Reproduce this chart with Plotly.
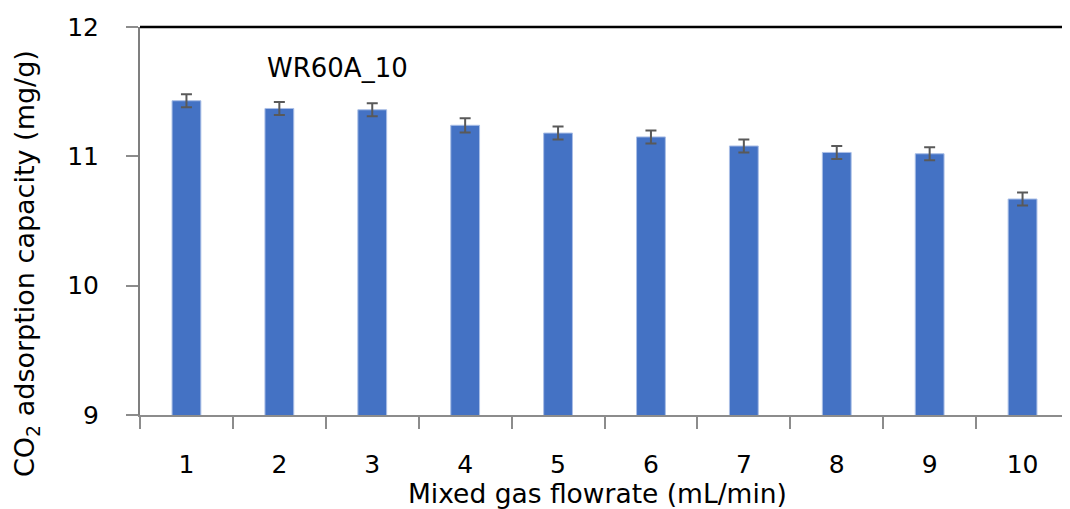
import plotly.graph_objects as go

categories = ["1", "2", "3", "4", "5", "6", "7", "8", "9", "10"]
capacity = [11.43, 11.37, 11.36, 11.24, 11.18, 11.15, 11.08, 11.03, 11.02, 10.67]
errors = [0.05, 0.05, 0.05, 0.055, 0.05, 0.05, 0.05, 0.05, 0.05, 0.05]
y_ticks = [9, 10, 11, 12]

FONT = "DejaVu Sans"

# page has an 8px body margin, so the figure is shifted by 8px
OFF = 8
W, H = 1070 - OFF, 509 - OFF
L, T, R, B = 140 - OFF, 27 - OFF, 1, 94
PW, PH = W - L - R, H - T - B


def px(xp):
    return (xp - OFF - L) / PW


def py(yp):
    return (H - B - (yp - OFF)) / PH


fig = go.Figure()
fig.add_trace(go.Bar(
    x=categories,
    y=capacity,
    marker=dict(color="#4472C4", line=dict(color="#A9BEE6", width=1)),
    error_y=dict(type="data", array=errors, visible=True,
                 color="#595959", thickness=2, width=5.5),
    showlegend=False,
))

fig.update_layout(
    width=W, height=H,
    margin=dict(l=L, r=R, t=T, b=B),
    paper_bgcolor="white", plot_bgcolor="white",
    bargap=0.69,
    font=dict(family=FONT, size=22, color="black"),
    xaxis=dict(
        type="category",
        showline=True, linecolor="#8c8c8c", linewidth=1.5,
        ticks="outside", tickson="boundaries", ticklen=12, tickwidth=1.5,
        tickcolor="#8c8c8c",
        ticklabelstandoff=26,
        tickfont=dict(family=FONT, size=25, color="black"),
        showgrid=False,
    ),
    yaxis=dict(
        range=[9, 12],
        tickvals=y_ticks,
        showline=True, linecolor="#7f7f7f", linewidth=2,
        ticks="outside", ticklen=12, tickwidth=1.5, tickcolor="#8c8c8c",
        ticklabelstandoff=22,
        tickfont=dict(family=FONT, size=25, color="black"),
        showgrid=False, zeroline=False,
    ),
    shapes=[
        dict(type="line", xref="paper", yref="paper", x0=0, x1=1, y0=1, y1=1,
             line=dict(color="black", width=2.5)),
        dict(type="line", xref="paper", yref="paper", x0=1, x1=1, y0=0, y1=1,
             line=dict(color="#d9d9d9", width=1)),
    ],
    annotations=[
        dict(text="WR60A_10", xref="paper", yref="paper",
             x=px(265), y=py(68), xanchor="left", yanchor="middle",
             showarrow=False, font=dict(family=FONT, size=26, color="black")),
        dict(text="CO<sub>2</sub> adsorption capacity (mg/g)", xref="paper", yref="paper",
             x=px(26), y=py(264), xanchor="center", yanchor="middle",
             textangle=-90, showarrow=False,
             font=dict(family=FONT, size=27, color="black")),
        dict(text="Mixed gas flowrate (mL/min)", xref="paper", yref="paper",
             x=px(597), y=py(493), xanchor="center", yanchor="middle",
             showarrow=False, font=dict(family=FONT, size=26.5, color="black")),
    ],
)

fig.write_html("out.html")
